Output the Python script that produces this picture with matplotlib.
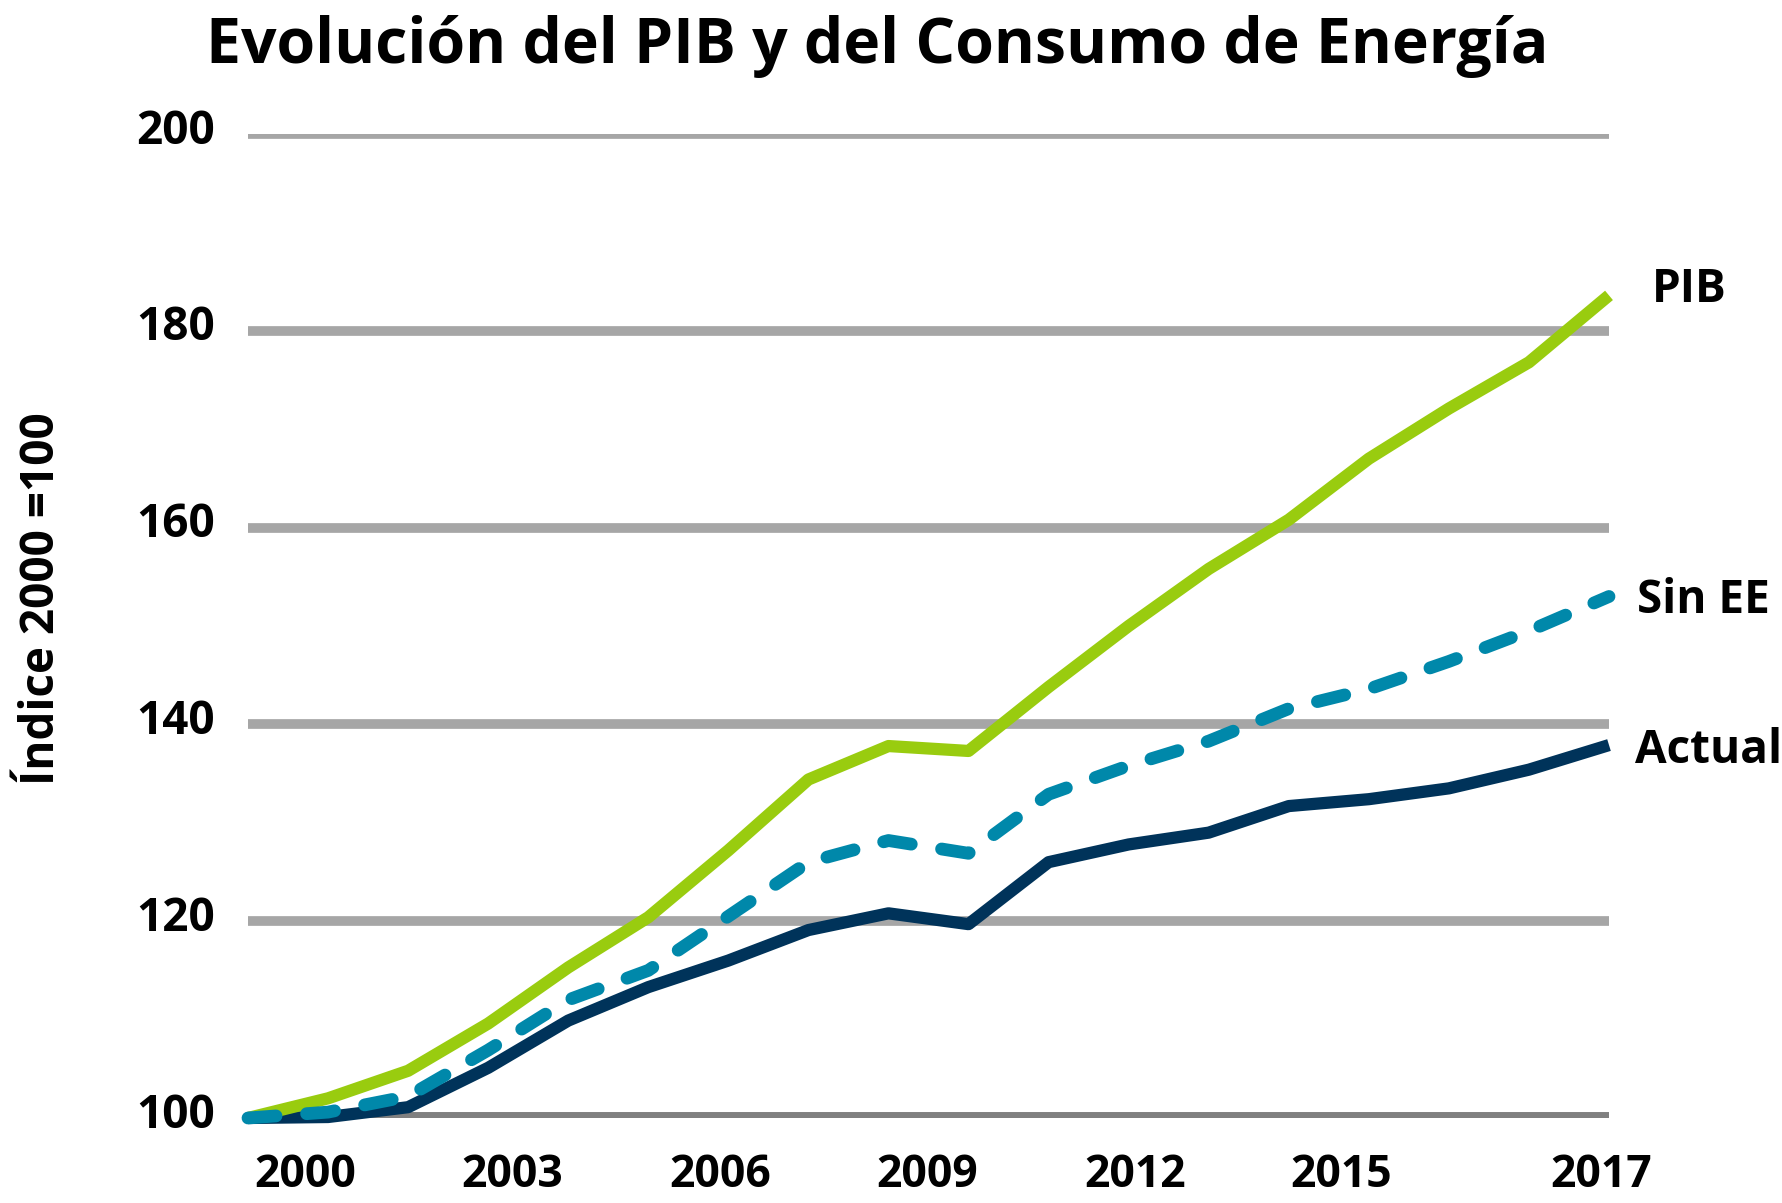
import matplotlib
matplotlib.use("Agg")
import matplotlib.pyplot as plt
import matplotlib.transforms as mtransforms

# ---------------- data ----------------
years = list(range(2000, 2018))
pib = [100.0, 102.0, 104.8, 109.6, 115.3, 120.4, 127.2, 134.4, 137.8, 137.3,
       143.8, 150.0, 155.8, 160.8, 167.0, 172.1, 176.8, 183.6]
sin_ee = [100.0, 100.6, 102.2, 106.9, 112.0, 115.0, 120.5, 126.0, 128.2, 126.9,
          132.9, 135.8, 138.3, 141.6, 143.6, 146.4, 149.5, 153.0]
actual = [100.0, 100.1, 101.1, 105.1, 109.9, 113.3, 116.0, 119.1, 120.8, 119.7,
          126.0, 127.8, 129.0, 131.7, 132.4, 133.5, 135.4, 137.9]
x_tick_labels = ["2000", "2003", "2006", "2009", "2012", "2015", "2017"]
y_ticks = [100, 120, 140, 160, 180, 200]
series_labels = ["PIB", "Sin EE", "Actual"]
title = "Evolución del PIB y del Consumo de Energía"
y_label = "Índice 2000 =100"

# ---------------- layout / style ----------------
x_tick_offsets = [0.71, 3.30, 5.90, 8.48, 11.08, 13.66, 16.9]
c_pib = "#99CC0F"
c_sin = "#0088AA"
c_act = "#00335A"

plt.rcParams['font.family'] = ['Open Sans', 'DejaVu Sans']
plt.rcParams['font.weight'] = 'bold'

W, H = 1783, 1203
fig = plt.figure(figsize=(W / 100, H / 100), dpi=100)
ax = fig.add_axes([248 / W, 1 - 1118 / H, (1609 - 248) / W, (1118 - 134) / H])
ax.set_xlim(years[0], years[-1])
ax.set_ylim(y_ticks[0], y_ticks[-1])
for s in ax.spines.values():
    s.set_visible(False)

# gridlines
for v in y_ticks:
    base = (v == y_ticks[0])
    ax.axhline(v, color="#808080" if base else "#A6A6A6",
               lw=8.6 if base else 7.0, zorder=1, solid_capstyle='butt')

# ticks
ax.set_yticks(y_ticks)
ax.set_yticklabels([str(v) for v in y_ticks], fontsize=33, fontweight='bold')
ax.tick_params(axis='y', length=0, pad=24)
shift = mtransforms.ScaledTranslation(0, 6 / 72, fig.dpi_scale_trans)
for lab in ax.get_yticklabels():
    lab.set_transform(lab.get_transform() + shift)

ax.set_xticks([years[0] + o for o in x_tick_offsets])
ax.set_xticklabels(x_tick_labels, fontsize=32, fontweight='bold')
ax.tick_params(axis='x', length=0, pad=25)

# series
ax.plot(years, actual, color=c_act, lw=8.8, zorder=3, clip_on=False,
        solid_capstyle='butt', solid_joinstyle='round')
ax.plot(years, pib, color=c_pib, lw=8.8, zorder=4, clip_on=False,
        solid_capstyle='butt', solid_joinstyle='round')
ax.plot(years, sin_ee, color=c_sin, lw=9.2, zorder=5, clip_on=False,
        dashes=(2.2, 2.4), dash_capstyle='round', dash_joinstyle='round')

# end labels
offsets = [(31, 8), (20, 1), (19, 0)]
for lab, vals, off in zip(series_labels, [pib, sin_ee, actual], offsets):
    ax.annotate(lab, xy=(years[-1], vals[-1]), xytext=off,
                textcoords='offset points', ha='left', va='center_baseline',
                fontsize=33, fontweight='bold', annotation_clip=False)

fig.text(877 / W, 1 - 63 / H, title, ha='center', va='baseline',
         fontsize=45, fontweight='bold')
fig.text(42 / W, 1 - 599 / H, y_label, rotation=90, ha='center', va='center',
         fontsize=33, fontweight='bold')

fig.savefig("out.png", dpi=100, facecolor='white')
